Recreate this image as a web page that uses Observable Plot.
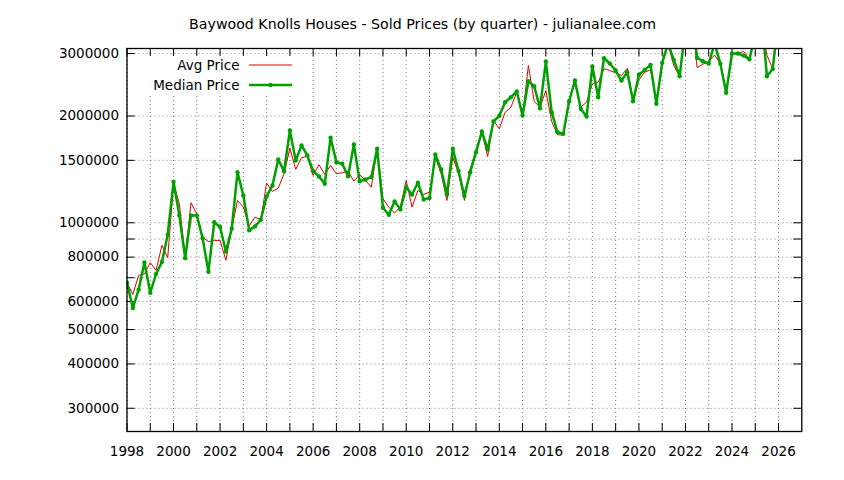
<!DOCTYPE html>
<html><head><meta charset="utf-8">
<script src="https://cdn.jsdelivr.net/npm/d3@7"></script>
<script src="https://cdn.jsdelivr.net/npm/@observablehq/plot@0.6"></script>
<style>body{margin:0;background:#fff} svg{display:block}</style>
</head><body><div id="chart"></div>
<script>
const title = "Baywood Knolls Houses - Sold Prices (by quarter) - julianalee.com";
const seriesNames = ["Avg Price", "Median Price"];
const firstQuarterYear = 1998;
// quarterly values, in dollars (1998 Q1 ... 2026 Q1)
const avgPrice = [
 678000,628000,711000,718000, 772000,734000,864000,797000,
 1289000,1132000,800000,1139000, 1061000,910000,885000,892000,
 892000,784000,962000,1156000, 1107000,980000,1038000,1020000,
 1294000,1226000,1252000,1375000, 1623000,1414000,1525000,1541000,
 1360000,1458000,1369000,1451000, 1375000,1384000,1398000,1310000,
 1366000,1316000,1260000,1617000, 1169000,1107000,1065000,1112000,
 1316000,1107000,1234000,1202000, 1220000,1531000,1375000,1156000,
 1531000,1375000,1156000,1420000, 1599000,1800000,1538000,1942000,
 1841000,2050000,2118000,2334000, 1993000,2776000,2197000,2118000,
 2360000,1930000,1771000,1766000, 2201000,2518000,2118000,2188000,
 2464000,2491000,2716000,2687000, 2647000,2601000,2727000,2211000,
 2529000,2657000,2699000,2188000, 2806000,3200000,2770000,2590000,
 3500000,4000000,2740000,2800000, 2850000,2970000,2810000,2325000,
 3000000,3000000,3045000,2890000, 3400000,3600000,2970000,2715000,
 3600000
];
const medianPrice = [
 678000,575000,648000,773000, 635000,718000,775000,926000,
 1305000,1049000,795000,1049000, 1049000,905000,728000,1004000,
 973000,830000,962000,1389000, 1194000,952000,977000,1020000,
 1187000,1274000,1508000,1398000, 1821000,1498000,1652000,1548000,
 1398000,1351000,1289000,1737000, 1482000,1467000,1353000,1662000,
 1310000,1325000,1345000,1617000, 1103000,1054000,1149000,1091000,
 1260000,1202000,1297000,1164000, 1174000,1558000,1414000,1202000,
 1617000,1400000,1189000,1389000, 1582000,1809000,1610000,1930000,
 2003000,2188000,2260000,2345000, 2006000,2507000,2427000,2104000,
 2848000,2050000,1800000,1782000, 2201000,2518000,2096000,1993000,
 2758000,2260000,2910000,2812000, 2687000,2518000,2657000,2201000,
 2614000,2699000,2788000,2165000, 2824000,3200000,2880000,2590000,
 3550000,4100000,2918000,2854000, 2810000,3200000,2810000,2325000,
 3000000,3000000,2960000,2890000, 3400000,4000000,2590000,2715000,
 3800000
];
const yTickValues = [300000,400000,500000,600000,700000,800000,900000,1000000,1500000,2000000,3000000];
const yTickLabels = ["300000","400000","500000","600000","","800000","","1000000","1500000","2000000","3000000"];
const xTickYears = [1998,1999,2000,2001,2002,2003,2004,2005,2006,2007,2008,2009,2010,2011,2012,2013,2014,2015,2016,2017,2018,2019,2020,2021,2022,2023,2024,2025,2026];
const xLabelYears = [1998,2000,2002,2004,2006,2008,2010,2012,2014,2016,2018,2020,2022,2024,2026];

const rows = medianPrice.map((m, i) => ({t: firstQuarterYear + i / 4, median: m, avg: avgPrice[i]}));
const yLabelMap = new Map(yTickValues.map((v, i) => [v, yTickLabels[i]]));

const W = 844, H = 480, mL = 126.5, mR = 42.7, mT = 48, mB = 49;
const fw = W - mL - mR, fh = H - mT - mB;
const RED = "#dd0000", GREEN = "#00a000";
const gridStyle = {stroke: "#7a7a7a", strokeOpacity: 1, strokeWidth: 1, strokeDasharray: "1,3"};

const chart = Plot.plot({
  width: W, height: H,
  marginLeft: mL, marginRight: mR, marginTop: mT, marginBottom: mB,
  style: {fontFamily: "DejaVu Sans", fontSize: "13px", background: "white", color: "black", overflow: "visible"},
  x: {domain: [1998, 2027]},
  y: {type: "log", domain: [258000, 3100000]},
  marks: [
    Plot.gridX(xTickYears, gridStyle),
    Plot.gridY(yTickValues, gridStyle),
    Plot.tickY(yTickValues, {y: d => d, insetRight: fw - 8, stroke: "black"}),
    Plot.tickY(yTickValues, {y: d => d, insetLeft: fw - 8, stroke: "black"}),
    Plot.tickX(xTickYears, {x: d => d, insetTop: fh - 8, stroke: "black"}),
    Plot.tickX(xTickYears, {x: d => d, insetBottom: fh - 8, stroke: "black"}),
    Plot.axisY(yTickValues, {tickSize: 0, tickPadding: 8, tickFormat: d => yLabelMap.get(d), label: null, fontSize: 13.5}),
    Plot.axisX(xLabelYears, {tickSize: 0, tickPadding: 15, tickFormat: d => String(d), label: null, fontSize: 13.5}),
    Plot.line(rows, {x: "t", y: "avg", stroke: RED, strokeWidth: 1, clip: true}),
    Plot.line(rows, {x: "t", y: "median", stroke: GREEN, strokeWidth: 2.5, clip: true}),
    Plot.dot(rows, {x: "t", y: "median", r: 2.2, fill: GREEN, clip: true}),
    Plot.frame({stroke: "black", strokeWidth: 1.3}),
    Plot.text([title], {frameAnchor: "top", dx: (W / 2) - (mL + fw / 2), dy: -30, fontSize: 14.2, fill: "black"})
  ]
});

// legend (opaque key box, like gnuplot)
const svg = d3.select(chart);
const key = svg.append("g").attr("font-family", "DejaVu Sans").attr("font-size", 13.5);
key.append("rect").attr("x", 143).attr("y", 56).attr("width", 156).attr("height", 39).attr("fill", "white");
seriesNames.forEach((name, i) => {
  const y = 65 + i * 20;
  key.append("text").attr("x", 239.5).attr("y", y).attr("dy", "0.35em").attr("text-anchor", "end").attr("fill", "black").text(name);
  key.append("line").attr("x1", 249).attr("x2", 292).attr("y1", y).attr("y2", y)
    .attr("stroke", i === 0 ? RED : GREEN).attr("stroke-width", i === 0 ? 1 : 2.5);
  if (i === 1) key.append("circle").attr("cx", 270.5).attr("cy", y).attr("r", 2.2).attr("fill", GREEN);
});

document.getElementById("chart").appendChild(chart);
</script>
</body></html>
